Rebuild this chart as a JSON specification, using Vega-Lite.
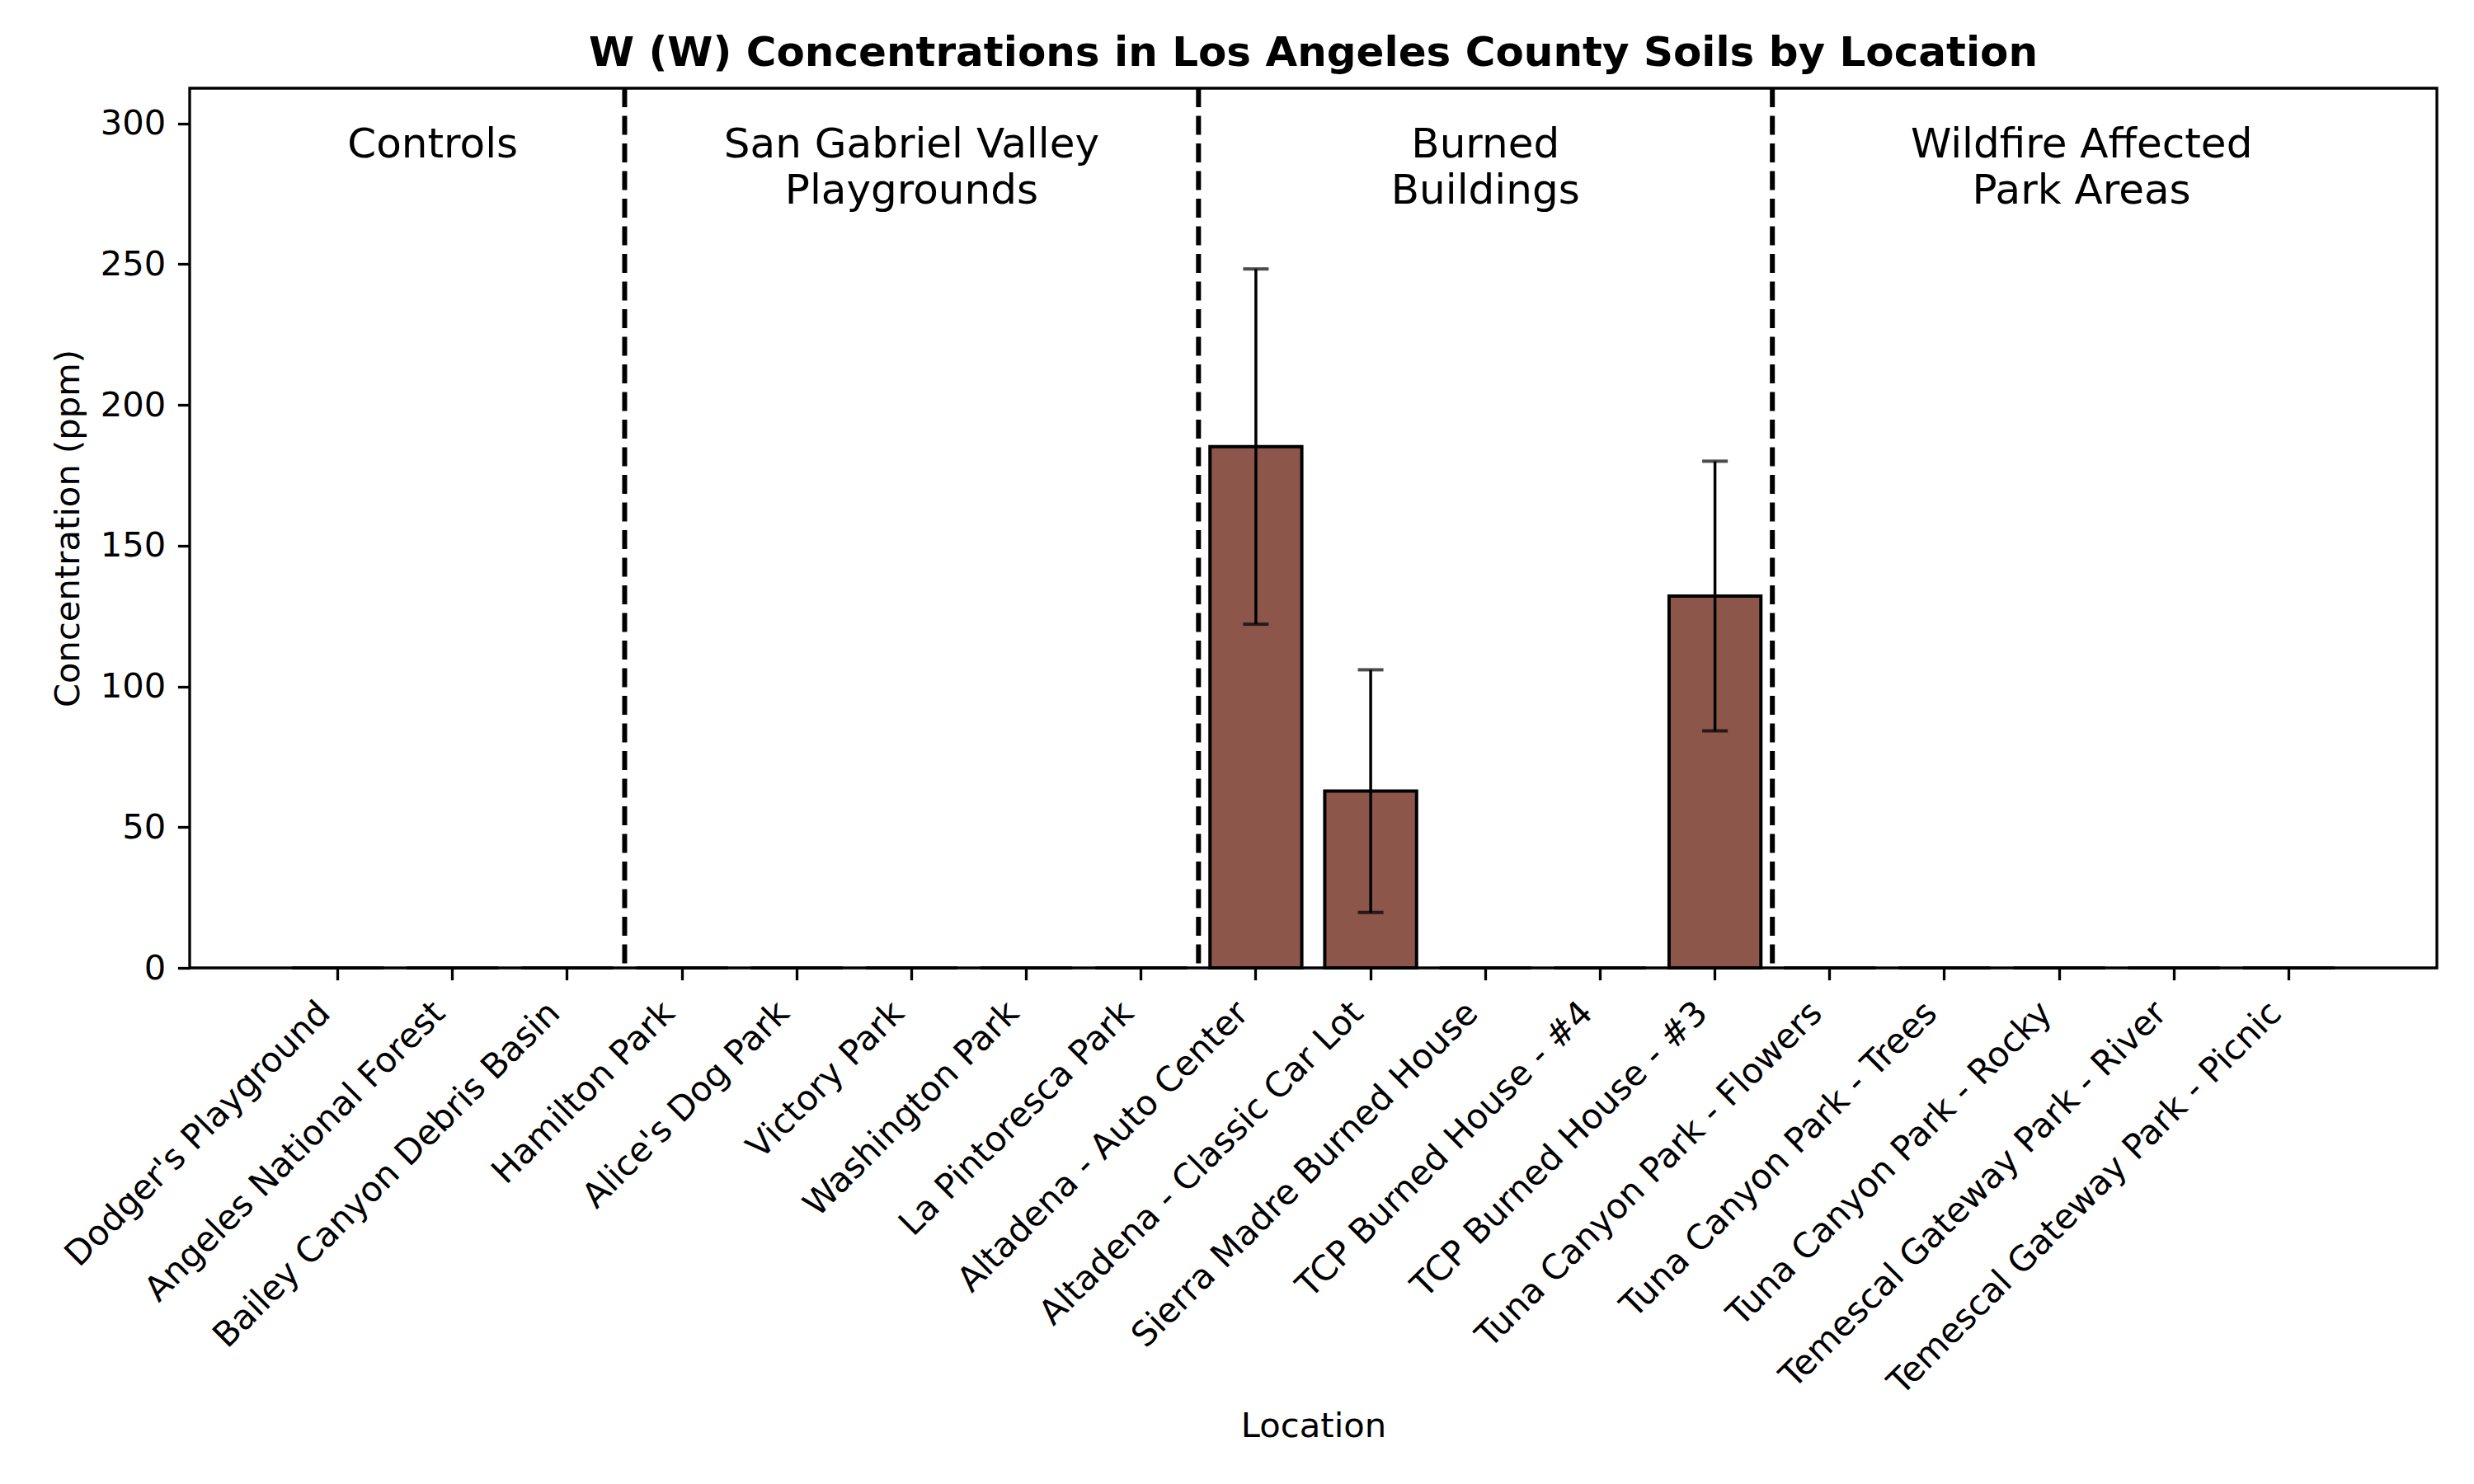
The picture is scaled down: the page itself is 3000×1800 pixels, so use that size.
{
  "$schema": "https://vega.github.io/schema/vega-lite/v6.json",
  "width": 2725,
  "height": 1067,
  "autosize": {"type": "none"},
  "padding": {"left": 230, "top": 107, "right": 45, "bottom": 626},
  "background": "white",
  "config": {
    "font": "DejaVu Sans",
    "view": {"stroke": "black", "strokeWidth": 3.3},
    "axis": {"labelColor": "black", "titleColor": "black", "tickColor": "black", "grid": false, "domain": false}
  },
  "title": {
    "text": "W (W) Concentrations in Los Angeles County Soils by Location",
    "font": "DejaVu Sans",
    "fontSize": 50,
    "fontWeight": "bold",
    "color": "black",
    "anchor": "middle",
    "frame": "group",
    "baseline": "alphabetic",
    "offset": -26
  },
  "datasets": {
    "bars": [
      {"location": "Dodger's Playground", "group": "Controls", "mean": 0, "sd": 0},
      {"location": "Angeles National Forest", "group": "Controls", "mean": 0, "sd": 0},
      {"location": "Bailey Canyon Debris Basin", "group": "Controls", "mean": 0, "sd": 0},
      {"location": "Hamilton Park", "group": "San Gabriel Valley Playgrounds", "mean": 0, "sd": 0},
      {"location": "Alice's Dog Park", "group": "San Gabriel Valley Playgrounds", "mean": 0, "sd": 0},
      {"location": "Victory Park", "group": "San Gabriel Valley Playgrounds", "mean": 0, "sd": 0},
      {"location": "Washington Park", "group": "San Gabriel Valley Playgrounds", "mean": 0, "sd": 0},
      {"location": "La Pintoresca Park", "group": "San Gabriel Valley Playgrounds", "mean": 0, "sd": 0},
      {"location": "Altadena - Auto Center", "group": "Burned Buildings", "mean": 185.2, "sd": 63.1},
      {"location": "Altadena - Classic Car Lot", "group": "Burned Buildings", "mean": 62.8, "sd": 43.1},
      {"location": "Sierra Madre Burned House", "group": "Burned Buildings", "mean": 0, "sd": 0},
      {"location": "TCP Burned House - #4", "group": "Burned Buildings", "mean": 0, "sd": 0},
      {"location": "TCP Burned House - #3", "group": "Burned Buildings", "mean": 132.1, "sd": 47.9},
      {"location": "Tuna Canyon Park - Flowers", "group": "Wildfire Affected Park Areas", "mean": 0, "sd": 0},
      {"location": "Tuna Canyon Park - Trees", "group": "Wildfire Affected Park Areas", "mean": 0, "sd": 0},
      {"location": "Tuna Canyon Park - Rocky", "group": "Wildfire Affected Park Areas", "mean": 0, "sd": 0},
      {"location": "Temescal Gateway Park - River", "group": "Wildfire Affected Park Areas", "mean": 0, "sd": 0},
      {"location": "Temescal Gateway Park - Picnic", "group": "Wildfire Affected Park Areas", "mean": 0, "sd": 0}
    ],
    "dividers": [
      {"location": "Hamilton Park"},
      {"location": "Altadena - Auto Center"},
      {"location": "Tuna Canyon Park - Flowers"}
    ],
    "groups": [
      {"location": "Angeles National Forest", "label": "Controls"},
      {"location": "Victory Park", "label": "San Gabriel Valley\nPlaygrounds"},
      {"location": "Sierra Madre Burned House", "label": "Burned\nBuildings"},
      {"location": "Tuna Canyon Park - Rocky", "label": "Wildfire Affected\nPark Areas"}
    ]
  },
  "encoding": {
    "x": {
      "field": "location",
      "type": "nominal",
      "sort": null,
      "scale": {
        "type": "band",
        "paddingInner": 0.2,
        "paddingOuter": 0.89,
        "domain": ["Dodger's Playground", "Angeles National Forest", "Bailey Canyon Debris Basin", "Hamilton Park", "Alice's Dog Park", "Victory Park", "Washington Park", "La Pintoresca Park", "Altadena - Auto Center", "Altadena - Classic Car Lot", "Sierra Madre Burned House", "TCP Burned House - #4", "TCP Burned House - #3", "Tuna Canyon Park - Flowers", "Tuna Canyon Park - Trees", "Tuna Canyon Park - Rocky", "Temescal Gateway Park - River", "Temescal Gateway Park - Picnic"]
      },
      "axis": {
        "title": "Location",
        "titleFontSize": 41.7,
        "titleFontWeight": "normal",
        "titleY": 568,
        "titleBaseline": "alphabetic",
        "labelFontSize": 41.7,
        "labelAngle": -45,
        "labelAlign": "right",
        "labelBaseline": "middle",
        "labelOffset": -16,
        "labelPadding": 33,
        "labelLimit": 3000,
        "labelOverlap": false,
        "labelFlush": false,
        "labelBound": false,
        "tickSize": 14.6,
        "tickWidth": 3.3
      }
    }
  },
  "layer": [
    {
      "data": {"name": "bars"},
      "mark": {"type": "bar", "fill": "#8c564b", "stroke": "black", "strokeWidth": 4},
      "encoding": {
        "y": {
          "field": "mean",
          "type": "quantitative",
          "title": "Concentration (ppm)",
          "scale": {"domain": [0, 312.5], "nice": false, "zero": true},
          "axis": {
            "title": "Concentration (ppm)",
            "titleFontSize": 41.7,
            "titleFontWeight": "normal",
            "titleAngle": -90,
            "titleAlign": "center",
            "titleBaseline": "alphabetic",
            "titleX": -135,
            "titleY": 533.5,
            "values": [0, 50, 100, 150, 200, 250, 300],
            "labelFontSize": 41.7,
            "labelPadding": 14.6,
            "tickSize": 14.6,
            "tickWidth": 3.3
          }
        }
      }
    },
    {
      "data": {"name": "bars"},
      "transform": [{"filter": "datum.sd > 0"}],
      "mark": {
        "type": "errorbar",
        "color": "black",
        "ticks": {"size": 31, "thickness": 4, "color": "black"},
        "rule": {"strokeWidth": 3.5, "color": "black"}
      },
      "encoding": {
        "y": {"field": "mean", "type": "quantitative", "title": "Concentration (ppm)"},
        "yError": {"field": "sd"}
      }
    },
    {
      "data": {"name": "dividers"},
      "mark": {"type": "rule", "color": "black", "strokeWidth": 6, "strokeDash": [23, 10.5]},
      "encoding": {
        "x": {"field": "location", "type": "nominal", "bandPosition": -0.125}
      }
    },
    {
      "data": {"name": "groups"},
      "transform": [{"filter": "datum.label == 'Controls'"}],
      "mark": {"type": "text", "fontSize": 50, "align": "center", "baseline": "alphabetic", "lineBreak": "\n", "lineHeight": 56, "color": "black", "dx": -24},
      "encoding": {
        "y": {"datum": 288, "type": "quantitative"},
        "text": {"field": "label"}
      }
    },
    {
      "data": {"name": "groups"},
      "transform": [{"filter": "datum.label != 'Controls' && datum.location != 'Tuna Canyon Park - Rocky'"}],
      "mark": {"type": "text", "fontSize": 50, "align": "center", "baseline": "alphabetic", "lineBreak": "\n", "lineHeight": 56, "color": "black"},
      "encoding": {
        "y": {"datum": 288, "type": "quantitative"},
        "text": {"field": "label"}
      }
    },
    {
      "data": {"name": "groups"},
      "transform": [{"filter": "datum.location == 'Tuna Canyon Park - Rocky'"}],
      "mark": {"type": "text", "fontSize": 50, "align": "center", "baseline": "alphabetic", "lineBreak": "\n", "lineHeight": 56, "color": "black", "dx": 27},
      "encoding": {
        "y": {"datum": 288, "type": "quantitative"},
        "text": {"field": "label"}
      }
    }
  ]
}
